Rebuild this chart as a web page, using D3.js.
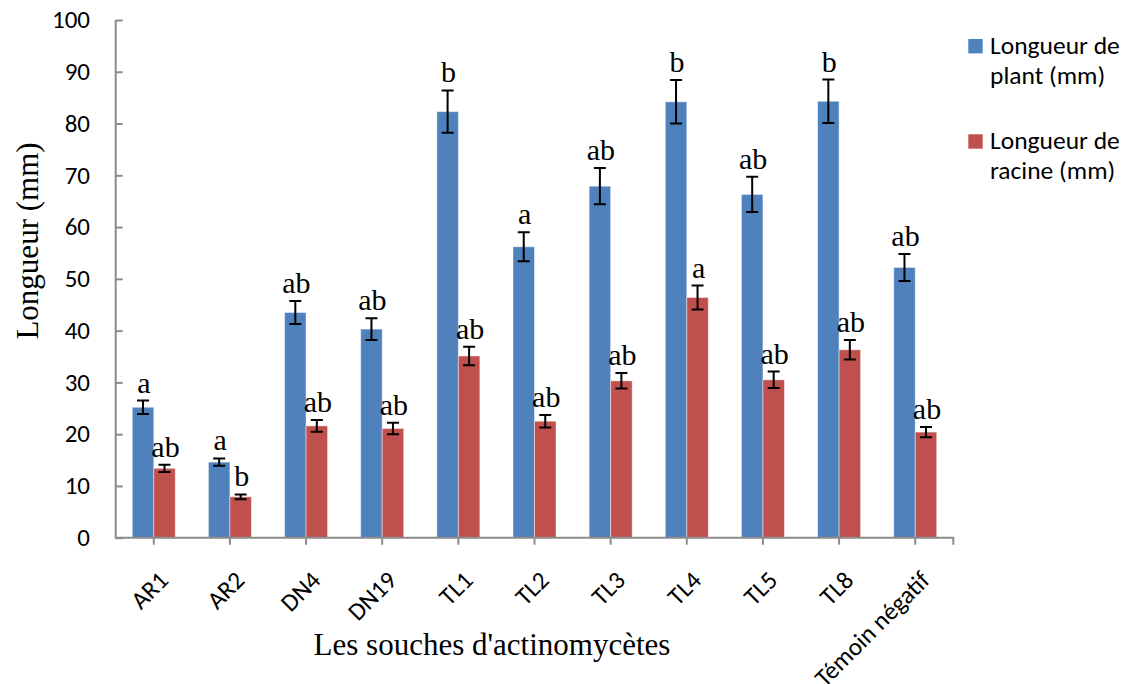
<!DOCTYPE html>
<html>
<head>
<meta charset="utf-8">
<script src="https://cdn.jsdelivr.net/npm/d3@7"></script>
<style>
  html, body { margin: 0; padding: 0; background: #fff; }
  svg { display: block; }
</style>
</head>
<body>
<svg id="chart" width="1132" height="684"></svg>
<script>
// Strains and measured lengths (mm), with standard errors and group letters
const categories = ["AR1", "AR2", "DN4", "DN19", "TL1", "TL2", "TL3", "TL4", "TL5", "TL8", "Témoin négatif"];
const plantLength = [25.2, 14.6, 43.5, 40.3, 82.3, 56.2, 67.9, 84.2, 66.3, 84.3, 52.2];
const plantError  = [1.3, 0.7, 2.2, 2.1, 4.1, 2.8, 3.5, 4.2, 3.4, 4.2, 2.6];
const plantLetters = ["a", "a", "ab", "ab", "b", "a", "ab", "b", "ab", "b", "ab"];
const rootLength  = [13.4, 7.9, 21.6, 21.1, 35.1, 22.5, 30.3, 46.4, 30.5, 36.3, 20.4];
const rootError   = [0.7, 0.45, 1.15, 1.1, 1.8, 1.2, 1.5, 2.3, 1.6, 1.9, 1.0];
const rootLetters = ["ab", "b", "ab", "ab", "ab", "ab", "ab", "a", "ab", "ab", "ab"];
const seriesNames = ["Longueur de plant (mm)", "Longueur de racine (mm)"];
const legendLines = [["Longueur de", "plant (mm)"], ["Longueur de", "racine (mm)"]];
const yTicks = [0, 10, 20, 30, 40, 50, 60, 70, 80, 90, 100];

const colors = ["#4F81BD", "#C0504D"];
const axisColor = "#8C8C8C";
const sansFont = "Carlito, Lato, 'Liberation Sans', sans-serif";
const serifFont = "'Liberation Serif', 'Times New Roman', serif";

const svg = d3.select("#chart");
const plotLeft = 115.7, plotRight = 953.3, plotTop = 20, plotBottom = 537.7;

const x = d3.scaleBand().domain(categories).range([plotLeft, plotRight]).padding(0);
const barW = 21.5;
const xs = d3.scaleBand().domain(seriesNames).range([-barW, barW]);
const y = d3.scaleLinear().domain([0, 100]).range([plotBottom, plotTop]);

const series = [
  { name: seriesNames[0], values: plantLength, errors: plantError, letters: plantLetters, color: colors[0] },
  { name: seriesNames[1], values: rootLength, errors: rootError, letters: rootLetters, color: colors[1] }
];

// Bars
series.forEach(s => {
  const g = svg.append("g");
  g.selectAll("rect")
    .data(categories.map((c, i) => ({ c, v: s.values[i] })))
    .join("rect")
    .attr("x", d => x(d.c) + x.bandwidth() / 2 + xs(s.name))
    .attr("width", xs.bandwidth())
    .attr("y", d => y(d.v))
    .attr("height", d => y(0) - y(d.v))
    .attr("fill", s.color)
    .attr("stroke", "rgba(255,255,255,0.45)")
    .attr("stroke-width", 1);
});

// Error bars and significance letters
series.forEach(s => {
  const g = svg.append("g");
  categories.forEach((c, i) => {
    const cx = x(c) + x.bandwidth() / 2 + xs(s.name) + xs.bandwidth() / 2;
    const hi = y(s.values[i] + s.errors[i]);
    const lo = y(s.values[i] - s.errors[i]);
    const cap = 6;
    g.append("path")
      .attr("d", `M${cx},${hi}V${lo}M${cx - cap},${hi}H${cx + cap}M${cx - cap},${lo}H${cx + cap}`)
      .attr("stroke", "#000").attr("stroke-width", 2).attr("fill", "none");
    g.append("text")
      .attr("x", cx + 1)
      .attr("y", hi - 8)
      .attr("text-anchor", "middle")
      .attr("font-family", serifFont)
      .attr("font-size", 30)
      .attr("fill", "#000")
      .text(s.letters[i]);
  });
});

// Y axis (ticks pointing into the plot)
const yAxis = d3.axisRight(y).tickValues(yTicks).tickSize(7).tickFormat("");
const yg = svg.append("g").attr("transform", `translate(${plotLeft},0)`).call(yAxis);
yg.select(".domain").attr("stroke", axisColor).attr("stroke-width", 2)
  .attr("d", `M0,${plotTop}V${plotBottom}`);
yg.selectAll(".tick line").attr("stroke", axisColor).attr("stroke-width", 2);
svg.append("g").selectAll("text")
  .data(yTicks).join("text")
  .attr("x", 90).attr("y", d => y(d)).attr("dy", "0.33em")
  .attr("text-anchor", "end")
  .attr("font-family", sansFont).attr("font-size", 25).attr("fill", "#000")
  .text(d => d);

// X axis (ticks at group centres, plus the closing tick)
const xg = svg.append("g").attr("transform", `translate(0,${plotBottom})`);
xg.append("path").attr("d", `M${plotLeft - 1},0H${plotRight}V7`)
  .attr("stroke", axisColor).attr("stroke-width", 2).attr("fill", "none");
xg.selectAll("line.tick")
  .data(categories).join("line")
  .attr("class", "tick")
  .attr("x1", d => x(d) + x.bandwidth() / 2).attr("x2", d => x(d) + x.bandwidth() / 2)
  .attr("y1", 0).attr("y2", 7)
  .attr("stroke", axisColor).attr("stroke-width", 2);
xg.selectAll("text")
  .data(categories).join("text")
  .attr("transform", d => `translate(${x(d) + x.bandwidth() / 2 + 16},${44}) rotate(-45)`)
  .attr("text-anchor", "end")
  .attr("font-family", sansFont).attr("font-size", 25).attr("fill", "#000")
  .text(d => d);

// Axis titles
svg.append("text")
  .attr("transform", `translate(38,241) rotate(-90)`)
  .attr("text-anchor", "middle")
  .attr("font-family", serifFont).attr("font-size", 31).attr("fill", "#000")
  .text("Longueur (mm)");
svg.append("text")
  .attr("x", 492).attr("y", 655)
  .attr("text-anchor", "middle")
  .attr("font-family", serifFont).attr("font-size", 31).attr("fill", "#000")
  .text("Les souches d'actinomycètes");

// Legend
const legend = svg.append("g");
const legendTop = [39, 134.3];
series.forEach((s, i) => {
  legend.append("rect")
    .attr("x", 968.3).attr("y", legendTop[i]).attr("width", 14.4).attr("height", 14.4)
    .attr("fill", s.color);
  const t = legend.append("text")
    .attr("font-family", sansFont).attr("font-size", 25.5).attr("fill", "#000");
  legendLines[i].forEach((line, j) => {
    t.append("tspan").attr("x", 990).attr("y", legendTop[i] + 15 + j * 30).text(line);
  });
});
</script>
</body>
</html>
